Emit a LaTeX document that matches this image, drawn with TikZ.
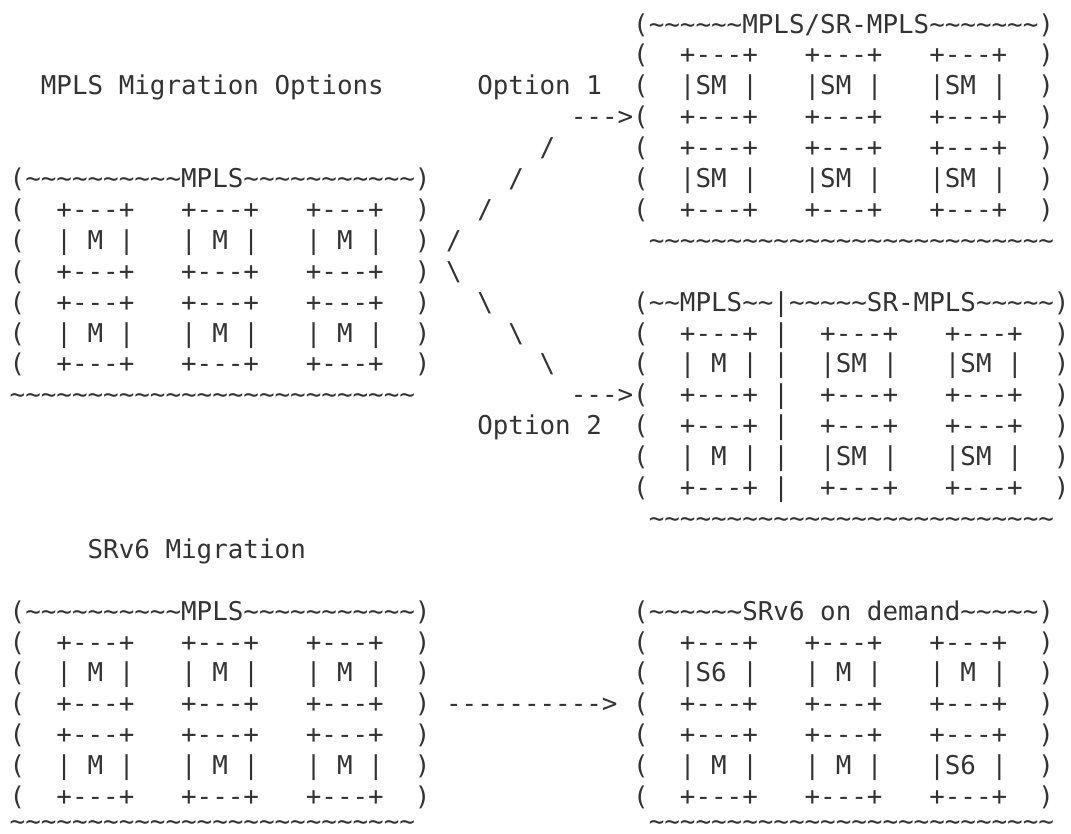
\documentclass[tikz,border=0pt]{standalone}
\usepackage{fontspec}
\setmonofont{DejaVu Sans Mono}
\definecolor{ink}{HTML}{333333}
\newlength\cw
\AtBeginDocument{\settowidth\cw{\ttfamily\fontsize{25.89pt}{30pt}\selectfont 0}}
\newcommand\SP[1]{\hspace*{#1\cw}}
\ExplSyntaxOn
\NewDocumentCommand\TL{m}{\prg_replicate:nn{#1}{\c_tilde_str}}
\ExplSyntaxOff
\newcommand\BS{\textbackslash}
% repeated blocks
\newcommand\Bp{(\SP{2}+---+\SP{3}+---+\SP{3}+---+\SP{2})}
\newcommand\Bm{(\SP{2}| M |\SP{3}| M |\SP{3}| M |\SP{2})}
\newcommand\Bsm{(\SP{2}|SM |\SP{3}|SM |\SP{3}|SM |\SP{2})}
\newcommand\Cp{(\SP{2}+---+ |\SP{2}+---+\SP{3}+---+\SP{2})}
\newcommand\Cm{(\SP{2}| M | |\SP{2}|SM |\SP{3}|SM |\SP{2})}
\newcommand\Mtop{(\TL{10}MPLS\TL{11})}
\tikzset{asc/.style={anchor=base west, inner sep=0pt, outer sep=0pt,
  font=\ttfamily\fontsize{25.89pt}{30pt}\selectfont, text=ink}}
\newcommand\Row[2]{\node[asc] (r#1) at (9.7,{33+(#1-1)*30.9}) {#2};}
\begin{document}
\begin{tikzpicture}[x=1pt,y=-1pt]
\useasboundingbox (0,0) rectangle (1071,833);
\Row{1}{\SP{40}(\TL{6}MPLS/SR-MPLS\TL{7})}
\Row{2}{\SP{40}\Bp}
\Row{3}{\SP{2}MPLS Migration Options\SP{6}Option 1\SP{2}\Bsm}
\Row{4}{\SP{36}--->\Bp}
\Row{5}{\SP{34}/\SP{5}\Bp}
\Row{6}{\Mtop\SP{5}/\SP{7}\Bsm}
\Row{7}{\Bp\SP{3}/\SP{9}\Bp}
\Row{8}{\Bm\SP{1}/\SP{12}\TL{26}}
\Row{9}{\Bp\SP{1}\BS}
\Row{10}{\Bp\SP{3}\BS\SP{9}(\TL{2}MPLS\TL{2}|\TL{5}SR-MPLS\TL{5})}
\Row{11}{\Bm\SP{5}\BS\SP{7}\Cp}
\Row{12}{\Bp\SP{7}\BS\SP{5}\Cm}
\Row{13}{\TL{26}\SP{10}--->\Cp}
\Row{14}{\SP{30}Option 2\SP{2}\Cp}
\Row{15}{\SP{40}\Cm}
\Row{16}{\SP{40}\Cp}
\Row{17}{\SP{41}\TL{26}}
\Row{18}{\SP{5}SRv6 Migration}
\Row{20}{\Mtop\SP{13}(\TL{6}SRv6 on demand\TL{5})}
\Row{21}{\Bp\SP{13}\Bp}
\Row{22}{\Bm\SP{13}(\SP{2}|S6 |\SP{3}| M |\SP{3}| M |\SP{2})}
\Row{23}{\Bp\SP{1}---------->\SP{1}\Bp}
\Row{24}{\Bp\SP{13}\Bp}
\Row{25}{\Bm\SP{13}(\SP{2}| M |\SP{3}| M |\SP{3}|S6 |\SP{2})}
\Row{26}{\Bp\SP{13}\Bp}
\node[asc] (r27) at (9.7,{33+26*30.9-6}) {\TL{26}\SP{15}\TL{26}};
\end{tikzpicture}
\end{document}
